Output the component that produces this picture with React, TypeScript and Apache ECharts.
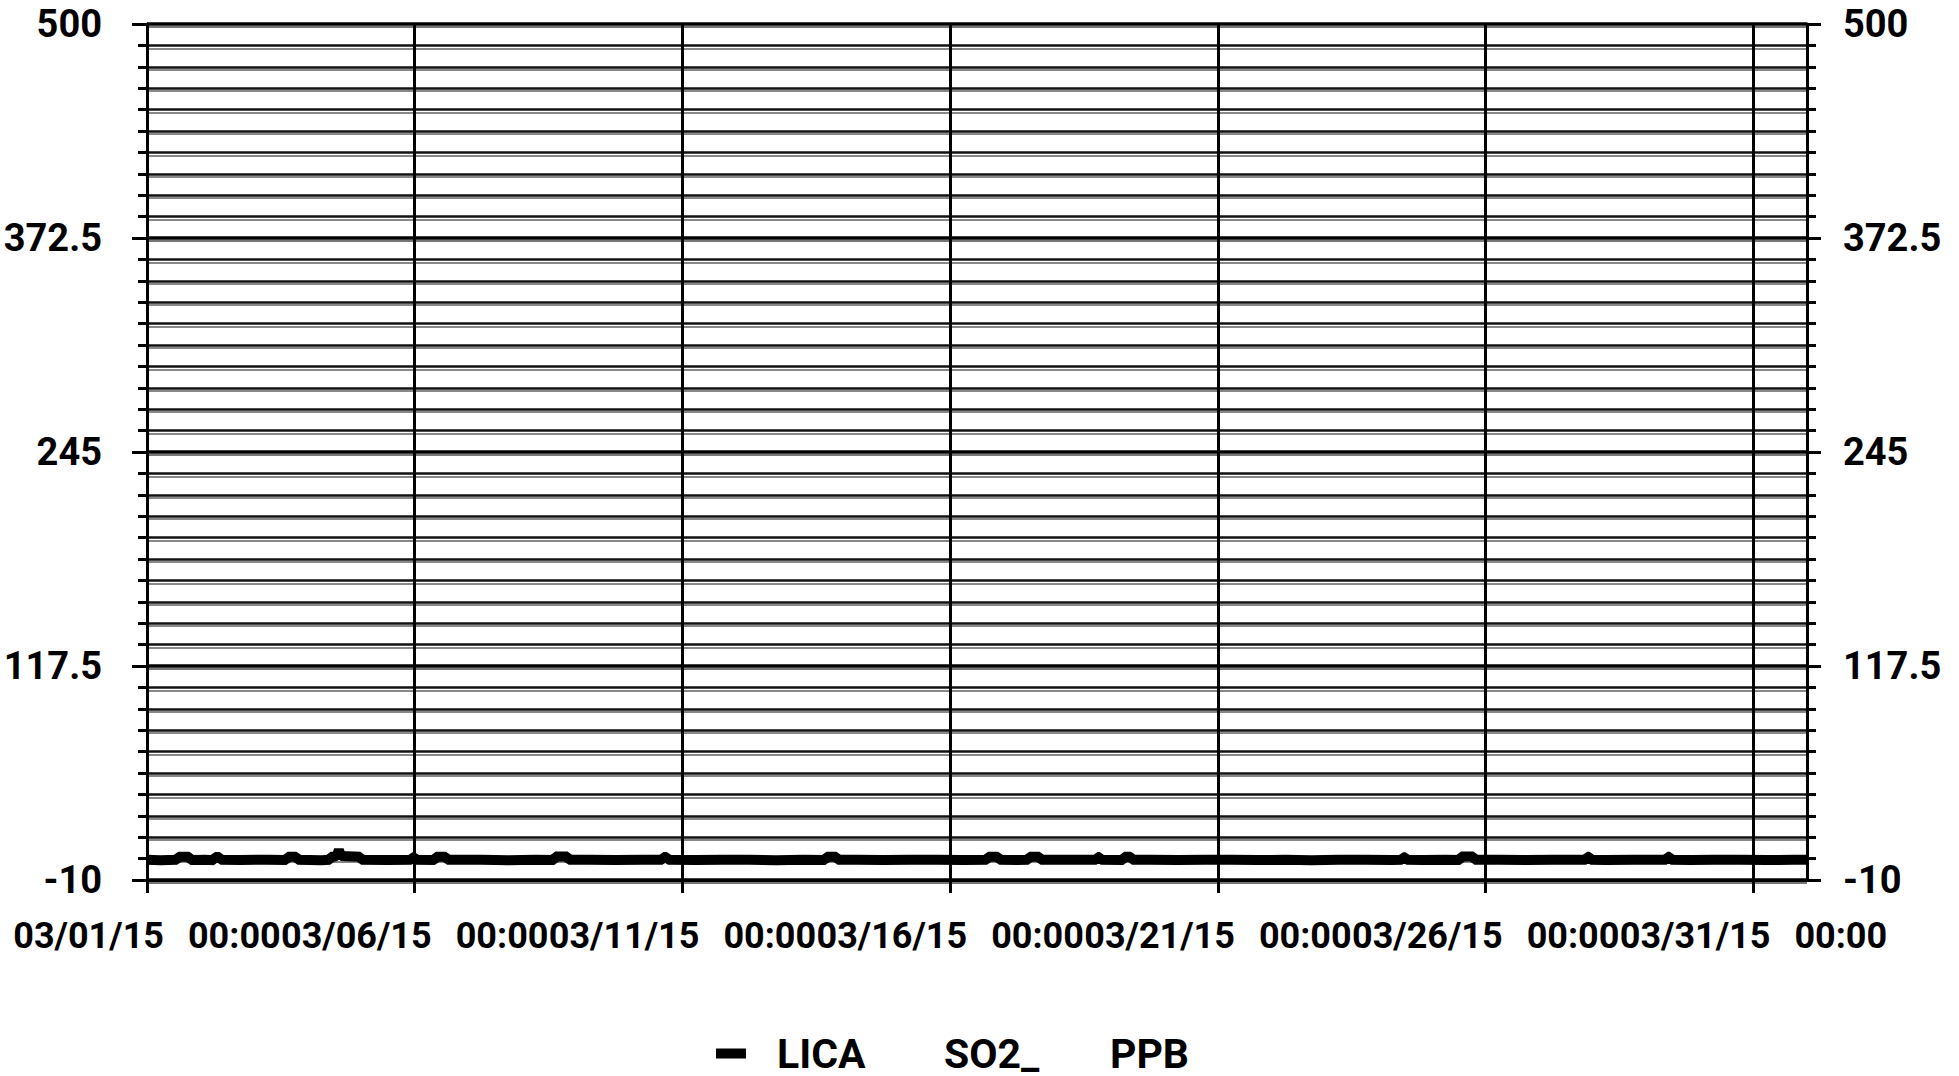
import { useEffect, useRef } from "react";
import * as echarts from "echarts";

const START = "2015-03-01 00:00";
const END = "2015-04-01 00:00";
const xTickDays = 5;
const yMin = -10;
const yMax = 500;
const yInterval = 127.5;
const legendParts = ["LICA", "SO2_", "PPB"];
const seriesName = "LICA SO2_ PPB";

const so2Points: [string, number][] = [
  ["2015-03-01 00:00", 2.0],
  ["2015-03-01 06:00", 1.8],
  ["2015-03-01 13:30", 2.1],
  ["2015-03-01 14:00", 3.8],
  ["2015-03-01 19:00", 3.8],
  ["2015-03-01 19:30", 1.9],
  ["2015-03-02 02:00", 2.0],
  ["2015-03-02 06:00", 1.8],
  ["2015-03-02 06:30", 3.7],
  ["2015-03-02 08:30", 3.7],
  ["2015-03-02 09:00", 2.0],
  ["2015-03-02 18:00", 1.9],
  ["2015-03-03 06:00", 2.1],
  ["2015-03-03 14:30", 1.9],
  ["2015-03-03 15:00", 3.8],
  ["2015-03-03 19:00", 3.8],
  ["2015-03-03 19:30", 2.0],
  ["2015-03-04 06:00", 1.8],
  ["2015-03-04 10:00", 2.0],
  ["2015-03-04 10:30", 3.9],
  ["2015-03-04 13:00", 4.2],
  ["2015-03-04 14:00", 7.9],
  ["2015-03-04 15:00", 4.3],
  ["2015-03-04 23:30", 3.8],
  ["2015-03-05 00:00", 2.0],
  ["2015-03-05 12:00", 1.9],
  ["2015-03-05 22:30", 2.0],
  ["2015-03-05 23:00", 3.6],
  ["2015-03-06 00:00", 3.6],
  ["2015-03-06 00:30", 2.0],
  ["2015-03-06 09:00", 1.9],
  ["2015-03-06 09:30", 3.8],
  ["2015-03-06 14:00", 3.8],
  ["2015-03-06 14:30", 2.0],
  ["2015-03-07 06:00", 2.1],
  ["2015-03-07 18:00", 1.8],
  ["2015-03-08 06:00", 2.0],
  ["2015-03-08 14:30", 1.9],
  ["2015-03-08 15:00", 4.0],
  ["2015-03-08 20:30", 4.0],
  ["2015-03-08 21:00", 2.0],
  ["2015-03-09 06:00", 2.1],
  ["2015-03-09 18:00", 1.9],
  ["2015-03-10 06:00", 2.0],
  ["2015-03-10 15:00", 2.0],
  ["2015-03-10 15:30", 3.7],
  ["2015-03-10 17:00", 3.7],
  ["2015-03-10 17:30", 2.0],
  ["2015-03-11 06:00", 1.9],
  ["2015-03-11 18:00", 2.1],
  ["2015-03-12 06:00", 2.0],
  ["2015-03-12 18:00", 1.8],
  ["2015-03-13 06:00", 2.0],
  ["2015-03-13 16:00", 1.9],
  ["2015-03-13 16:30", 3.8],
  ["2015-03-13 21:00", 3.8],
  ["2015-03-13 21:30", 2.0],
  ["2015-03-14 06:00", 2.1],
  ["2015-03-14 18:00", 1.9],
  ["2015-03-15 06:00", 2.0],
  ["2015-03-15 18:00", 2.1],
  ["2015-03-16 06:00", 1.9],
  ["2015-03-16 16:30", 2.0],
  ["2015-03-16 17:00", 3.8],
  ["2015-03-16 21:30", 3.8],
  ["2015-03-16 22:00", 2.0],
  ["2015-03-17 06:00", 1.9],
  ["2015-03-17 11:00", 2.0],
  ["2015-03-17 11:30", 3.9],
  ["2015-03-17 16:00", 3.9],
  ["2015-03-17 16:30", 2.0],
  ["2015-03-18 06:00", 2.1],
  ["2015-03-18 17:30", 2.0],
  ["2015-03-18 18:00", 3.7],
  ["2015-03-18 19:00", 3.7],
  ["2015-03-18 19:30", 2.0],
  ["2015-03-19 05:30", 1.9],
  ["2015-03-19 06:00", 3.8],
  ["2015-03-19 09:00", 3.8],
  ["2015-03-19 09:30", 2.0],
  ["2015-03-19 18:00", 2.1],
  ["2015-03-20 06:00", 1.9],
  ["2015-03-20 18:00", 2.0],
  ["2015-03-21 06:00", 2.1],
  ["2015-03-21 18:00", 1.9],
  ["2015-03-22 06:00", 2.0],
  ["2015-03-22 18:00", 1.8],
  ["2015-03-23 06:00", 2.0],
  ["2015-03-23 18:00", 2.1],
  ["2015-03-24 06:00", 1.9],
  ["2015-03-24 10:30", 2.0],
  ["2015-03-24 11:00", 3.5],
  ["2015-03-24 12:00", 3.5],
  ["2015-03-24 12:30", 2.0],
  ["2015-03-24 20:00", 1.9],
  ["2015-03-25 06:00", 2.1],
  ["2015-03-25 12:30", 1.9],
  ["2015-03-25 13:00", 4.0],
  ["2015-03-25 18:30", 4.0],
  ["2015-03-25 19:00", 2.0],
  ["2015-03-26 06:00", 2.0],
  ["2015-03-26 18:00", 1.9],
  ["2015-03-27 06:00", 2.1],
  ["2015-03-27 21:00", 2.0],
  ["2015-03-27 21:30", 3.8],
  ["2015-03-27 22:30", 3.8],
  ["2015-03-27 23:00", 2.0],
  ["2015-03-28 06:00", 1.9],
  ["2015-03-28 18:00", 2.1],
  ["2015-03-29 09:00", 2.0],
  ["2015-03-29 09:30", 3.8],
  ["2015-03-29 10:30", 3.8],
  ["2015-03-29 11:00", 2.0],
  ["2015-03-29 20:00", 1.9],
  ["2015-03-30 06:00", 2.0],
  ["2015-03-30 18:00", 2.1],
  ["2015-03-31 06:00", 1.9],
  ["2015-03-31 18:00", 2.0],
  ["2015-04-01 00:00", 2.0],
];

const FONT = "Roboto, 'DejaVu Sans Condensed', sans-serif";
const DAY_MS = 86400000;

function toUtc(s: string): number {
  const [d, t] = s.split(" ");
  const [y, m, dd] = d.split("-").map(Number);
  const [h, mi] = t.split(":").map(Number);
  return Date.UTC(y, m - 1, dd, h, mi);
}
const startMs = toUtc(START);
const toDays = (s: string) => (toUtc(s) - startMs) / DAY_MS;
const totalDays = toDays(END);

function pad(n: number) {
  return n < 10 ? "0" + n : "" + n;
}
function dayLabel(days: number) {
  const dt = new Date(startMs + days * DAY_MS);
  const date = `${pad(dt.getUTCMonth() + 1)}/${pad(dt.getUTCDate())}/${pad(dt.getUTCFullYear() % 100)}`;
  const time = `${pad(dt.getUTCHours())}:${pad(dt.getUTCMinutes())}`;
  return `{d|${date}}{t|${time}}`;
}
function yLabel(v: number) {
  return String(Number((v + yMin).toFixed(2)));
}

export default function App() {
  const ref = useRef<HTMLDivElement>(null);
  useEffect(() => {
    document.body.style.margin = "0";
    if (!ref.current) return;
    const chart = echarts.init(ref.current, undefined, { renderer: "svg" });
    const span = yMax - yMin;
    const black = "#000";
    const labelStyle = { fontFamily: FONT, fontWeight: "bold" as const, color: black };
    const gridBox = { left: 147, width: 1660, height: 856, outerBoundsMode: "none" };

    chart.setOption({
      animation: false,
      backgroundColor: "#fff",
      grid: [
        { ...gridBox, top: 24 },
        { ...gridBox, top: 27 },
      ],
      legend: {
        data: [seriesName],
        left: 716,
        top: 1033,
        padding: 0,
        icon: "rect",
        itemWidth: 30,
        itemHeight: 10,
        formatter: () => `{a|${legendParts[0]}}{b|${legendParts[1]}}{c|${legendParts[2]}}`,
        textStyle: {
          ...labelStyle,
          fontSize: 41,
          rich: {
            a: { ...labelStyle, fontSize: 41, width: 167, padding: [0, 0, 0, 26] },
            b: { ...labelStyle, fontSize: 41, width: 166 },
            c: { ...labelStyle, fontSize: 41 },
          },
        },
      },
      xAxis: [
        {
          type: "value",
          gridIndex: 0,
          min: 0,
          max: totalDays,
          interval: xTickDays,
          axisLine: { show: true, lineStyle: { color: black, width: 3 } },
          axisTick: { show: true, length: 13, lineStyle: { color: black, width: 3 } },
          splitLine: { show: true, lineStyle: { color: black, width: 3 } },
          axisLabel: {
            ...labelStyle,
            fontSize: 36,
            margin: 38,
            showMinLabel: true,
            showMaxLabel: false,
            hideOverlap: false,
            formatter: (v: number) => dayLabel(v),
            rich: {
              d: { ...labelStyle, fontSize: 36 },
              t: { ...labelStyle, fontSize: 36, padding: [0, 0, 0, 24] },
            },
          },
        },
        { type: "value", gridIndex: 1, min: 0, max: totalDays, show: false },
      ],
      yAxis: [
        {
          type: "value",
          gridIndex: 0,
          position: "left",
          min: 0,
          max: span,
          interval: yInterval,
          axisLine: { show: true, lineStyle: { color: black, width: 3 } },
          axisTick: { show: true, length: 15, lineStyle: { color: black, width: 3 } },
          minorTick: { show: true, splitNumber: 10, length: 9, lineStyle: { color: black, width: 3 } },
          splitLine: { show: true, lineStyle: { color: black, width: 3.5 } },
          minorSplitLine: { show: true, lineStyle: { color: "#111", width: 2.5 } },
          axisLabel: { ...labelStyle, fontSize: 38, margin: 45, formatter: yLabel },
        },
        {
          type: "value",
          gridIndex: 0,
          position: "right",
          min: 0,
          max: span,
          interval: yInterval,
          axisLine: { show: true, lineStyle: { color: black, width: 3 } },
          axisTick: { show: true, length: 14, lineStyle: { color: black, width: 3 } },
          minorTick: { show: true, splitNumber: 10, length: 9, lineStyle: { color: black, width: 3 } },
          splitLine: { show: false },
          axisLabel: { ...labelStyle, fontSize: 38, margin: 36, formatter: yLabel },
        },
        {
          type: "value",
          gridIndex: 1,
          min: 0,
          max: span,
          interval: yInterval,
          axisLine: { show: false },
          axisTick: { show: false },
          axisLabel: { show: false },
          splitLine: { show: true, lineStyle: { color: "#777", width: 2 } },
          minorSplitLine: { show: true, lineStyle: { color: "#888", width: 2 } },
          minorTick: { show: false, splitNumber: 10 },
        },
      ],
      series: [
        {
          name: seriesName,
          type: "line",
          xAxisIndex: 0,
          yAxisIndex: 0,
          showSymbol: false,
          symbol: "none",
          z: 5,
          itemStyle: { color: black },
          lineStyle: { color: black, width: 10 },
          data: so2Points.map(([t, v]) => [toDays(t), v - yMin]),
        },
      ],
    });
    return () => chart.dispose();
  }, []);
  return <div ref={ref} style={{ width: 1959, height: 1076 }} />;
}
